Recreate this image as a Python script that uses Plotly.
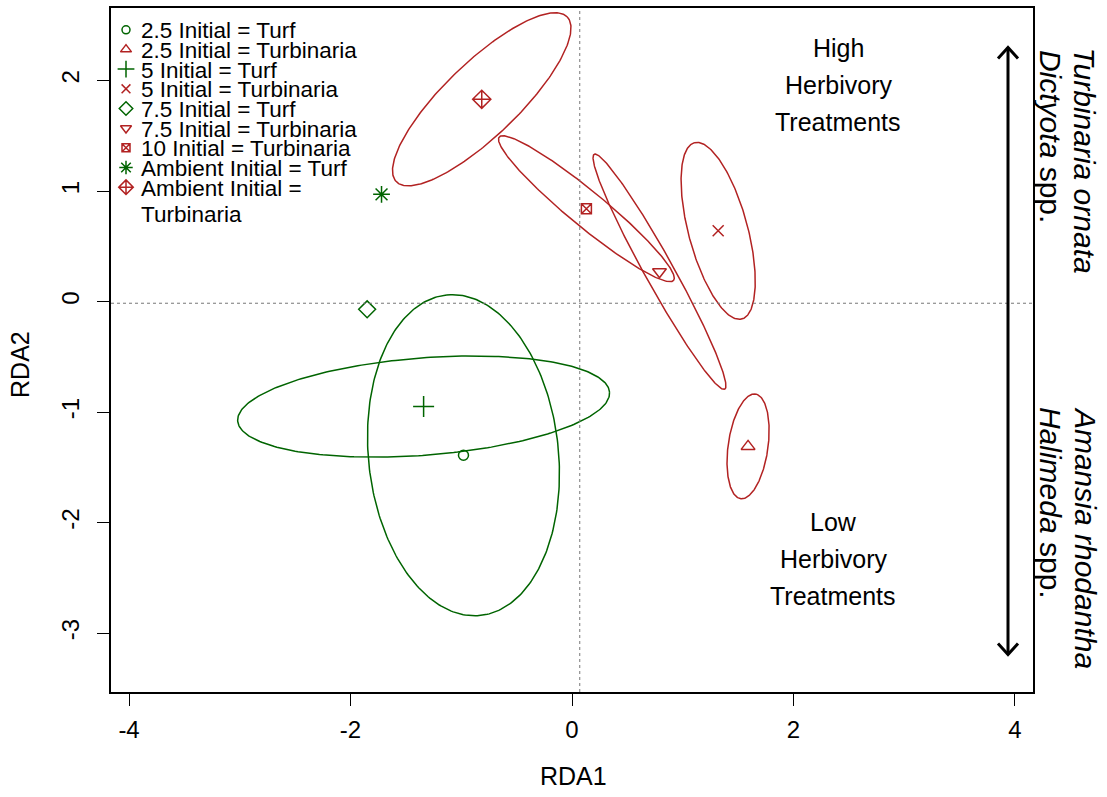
import numpy as np
import plotly.graph_objects as go

# ---------------- data ----------------
groups = ["2.5 Initial = Turf", "2.5 Initial = Turbinaria", "5 Initial = Turf",
          "5 Initial = Turbinaria", "7.5 Initial = Turf", "7.5 Initial = Turbinaria",
          "10 Initial = Turbinaria", "Ambient Initial = Turf", "Ambient Initial =\nTurbinaria"]
rda1 = [-0.98, 1.59, -1.34, 1.32, -1.85, 0.79, 0.13, -1.72, -0.815]
rda2 = [-1.39, -1.31, -0.95, 0.64, -0.07, 0.27, 0.84, 0.97, 1.83]
# ellipse semi-axes (RDA units) and orientation (degrees); None = no ellipse
ell_a = [1.458, 0.478, 1.684, 0.826, None, 1.215, 1.02, None, 1.073]
ell_b = [0.858, 0.18, 0.44, 0.267, None, 0.13, 0.16, None, 0.334]
ell_ang = [96, 82, 4.45, 105, None, -61, -39.5, None, 44]

x_ticks = [-4, -2, 0, 2, 4]
x_tick_text = ["-4", "-2", "0", "2", "4"]
y_ticks = [-3, -2, -1, 0, 1, 2]
y_tick_text = ["-3", "-2", "-1", "0", "1", "2"]

# ---------------- styles ----------------
GREEN = "#006400"
RED = "#B22222"
colors = [GREEN, RED, GREEN, RED, GREEN, RED, RED, GREEN, RED]
symbols = ["circle-open", "triangle-up-open", "cross-thin-open", "x-thin-open",
           "diamond-open", "triangle-down-open", "square-x-open", "asterisk-open",
           "diamond-cross-open"]
sizes = [10, 12, 15, 11, 13, 12, 10, 14, 14]
FONT = "Liberation Sans, Arial, sans-serif"

W, H = 1107, 797
L, R, T, B = 111, 1033, 7.5, 692.5   # plot box in pixels


def px(xp):
    return (xp - L) / (R - L)


def py(yp):
    return (B - yp) / (B - T)


fig = go.Figure()

# ellipses
for i in range(len(groups)):
    if ell_a[i] is None:
        continue
    t = np.linspace(0, 2 * np.pi, 300)
    th = np.deg2rad(ell_ang[i])
    ex = rda1[i] + ell_a[i] * np.cos(t) * np.cos(th) - ell_b[i] * np.sin(t) * np.sin(th)
    ey = rda2[i] + ell_a[i] * np.cos(t) * np.sin(th) + ell_b[i] * np.sin(t) * np.cos(th)
    fig.add_trace(go.Scatter(x=ex, y=ey, mode="lines",
                             line=dict(color=colors[i], width=1.5),
                             hoverinfo="skip", showlegend=False))

# centroids
for i in range(len(groups)):
    fig.add_trace(go.Scatter(
        x=[rda1[i]], y=[rda2[i]], mode="markers",
        marker=dict(symbol=symbols[i], size=sizes[i], color=colors[i],
                    line=dict(color=colors[i], width=1.5)),
        name=groups[i].replace("\n", " "), showlegend=False))

# dotted reference lines
fig.add_shape(type="line", x0=0.07, x1=0.07, y0=0, y1=1, xref="x", yref="paper",
              line=dict(color="#777777", width=1, dash="dot"))
fig.add_shape(type="line", x0=0, x1=1, y0=-0.015, y1=-0.015, xref="paper", yref="y",
              line=dict(color="#777777", width=1, dash="dot"))

# manual legend (overlay axes spanning the plot box, 0..1)
leg_x_marker = 126
leg_x_text = 138.5
leg_y0 = 29.3
leg_dy = 19.7
ann = []
for i, g in enumerate(groups):
    ym = leg_y0 + i * leg_dy
    fig.add_trace(go.Scatter(
        x=[px(leg_x_marker)], y=[py(ym)], xaxis="x2", yaxis="y2", mode="markers",
        marker=dict(symbol=symbols[i], size=sizes[i] * 0.8, color=colors[i],
                    line=dict(color=colors[i], width=1.5)),
        hoverinfo="skip", showlegend=False))
    for j, line in enumerate(g.split("\n")):
        ann.append(dict(text=line, x=px(leg_x_text), y=py(ym + 1 + j * 26.6),
                        xref="paper", yref="paper", xanchor="left", yanchor="middle",
                        showarrow=False, font=dict(size=22.5, color="black", family=FONT)))

# treatment labels
for k, line in enumerate(["High", "Herbivory", "Treatments"]):
    ann.append(dict(text=line, x=px(838), y=py(48 + 37 * k), xref="paper", yref="paper",
                    xanchor="center", yanchor="middle", showarrow=False,
                    font=dict(size=25, color="black", family=FONT)))
for k, line in enumerate(["Low", "Herbivory", "Treatments"]):
    ann.append(dict(text=line, x=px(833), y=py(522 + 37 * k), xref="paper", yref="paper",
                    xanchor="center", yanchor="middle", showarrow=False,
                    font=dict(size=25, color="black", family=FONT)))

# species labels on the right
side = [("<i>Turbinaria ornata</i>", 1085, 45), ("<i>Dictyota</i> spp.", 1050, 47),
        ("<i>Amansia rhodantha</i>", 1085, 405), ("<i>Halimeda</i> spp.", 1050, 405)]
for txt, xx, yy in side:
    ann.append(dict(text=txt, x=px(xx), y=py(yy), xref="paper", yref="paper",
                    xanchor="center", yanchor="top", textangle=90, showarrow=False,
                    font=dict(size=30, color="black", family=FONT)))

# axis titles
ann.append(dict(text="RDA1", x=px(573), y=py(777), xref="paper", yref="paper",
                xanchor="center", yanchor="middle",
                showarrow=False, font=dict(size=25, color="black", family=FONT)))
ann.append(dict(text="RDA2", x=px(20), y=py(365), xref="paper", yref="paper",
                xanchor="center", yanchor="middle",
                textangle=-90, showarrow=False, font=dict(size=25, color="black", family=FONT)))

# double-headed arrow
ax_x, ay0, ay1, hw, hl = 1008, 47, 655, 10, 11
fig.add_shape(type="line", x0=px(ax_x), x1=px(ax_x), y0=py(ay0), y1=py(ay1),
              xref="paper", yref="paper", line=dict(color="black", width=3))
fig.add_shape(type="path", xref="paper", yref="paper",
              path=f"M {px(ax_x - hw)} {py(ay0 + hl)} L {px(ax_x)} {py(ay0)} L {px(ax_x + hw)} {py(ay0 + hl)}",
              line=dict(color="black", width=3))
fig.add_shape(type="path", xref="paper", yref="paper",
              path=f"M {px(ax_x - hw)} {py(ay1 - hl)} L {px(ax_x)} {py(ay1)} L {px(ax_x + hw)} {py(ay1 - hl)}",
              line=dict(color="black", width=3))

fig.update_layout(
    width=W, height=H,
    margin=dict(l=L, r=W - R, t=T, b=H - B, pad=0),
    paper_bgcolor="white", plot_bgcolor="white",
    showlegend=False,
    font=dict(family=FONT, size=22, color="black"),
    annotations=ann,
    xaxis=dict(range=[-4.163, 4.163], tickvals=x_ticks, ticktext=x_tick_text,
               ticks="outside", ticklen=12, tickwidth=1.3, tickcolor="black",
               showline=True, mirror=True, linecolor="black", linewidth=1.5,
               showgrid=False, zeroline=False, ticklabelstandoff=3,
               tickfont=dict(size=24, family=FONT)),
    yaxis=dict(range=[-3.532, 2.656], tickvals=y_ticks, ticktext=y_tick_text,
               ticks="outside", ticklen=12, tickwidth=1.3, tickcolor="black",
               showline=True, mirror=True, linecolor="black", linewidth=1.5,
               showgrid=False, zeroline=False, tickangle=-90, ticklabelstandoff=9,
               tickfont=dict(size=24, family=FONT)),
    xaxis2=dict(range=[0, 1], overlaying="x", visible=False, anchor="y2"),
    yaxis2=dict(range=[0, 1], overlaying="y", visible=False, anchor="x2"),
)

fig.write_html("out.html")
